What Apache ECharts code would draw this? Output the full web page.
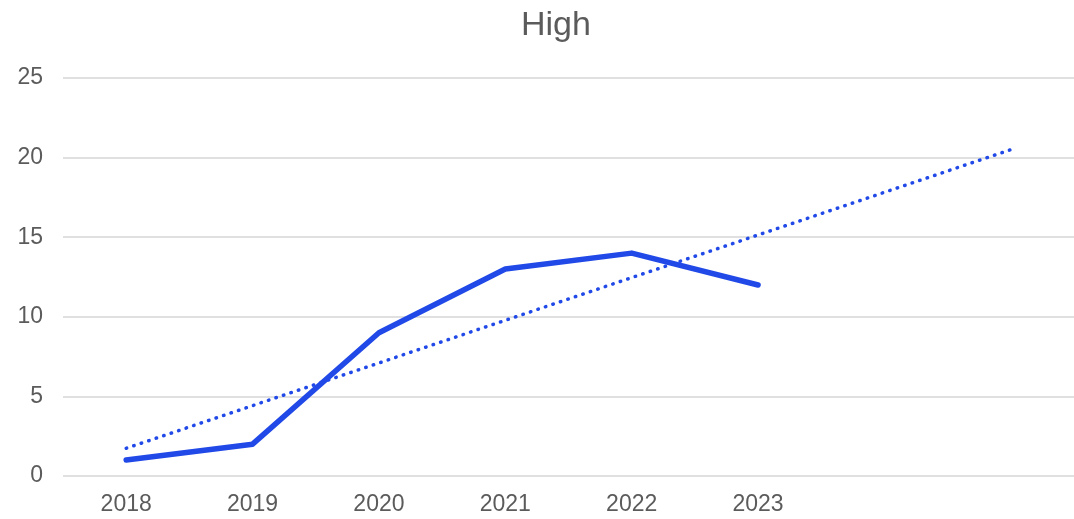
<!DOCTYPE html>
<html>
<head>
<meta charset="utf-8">
<script src="https://cdn.jsdelivr.net/npm/echarts@6/dist/echarts.min.js"></script>
<style>
  html, body { margin: 0; padding: 0; background: #ffffff; }
  #chart { width: 1074px; height: 519px; }
</style>
</head>
<body>
<div id="chart"></div>
<script>
// Years on the category axis; two trailing empty slots give room for the trend to run on.
const categories = ['2018', '2019', '2020', '2021', '2022', '2023', '', ''];
// Yearly "High" values.
const highValues = [1, 2, 9, 13, 14, 12];
// Linear trendline end points as [category index, value].
const trendPoints = [[0, 1.74], [7, 20.5]];
// Value axis ticks.
const yTicks = { min: 0, max: 25, interval: 5 };

const blue = '#2149e8';
const textGrey = '#5b5b5b';
const font = '"Liberation Sans", Arial, sans-serif';

const chart = echarts.init(document.getElementById('chart'), null, { renderer: 'canvas' });
chart.setOption({
  animation: false,
  backgroundColor: '#ffffff',
  title: {
    text: 'High',
    left: 516,
    top: 4,
    textStyle: { color: textGrey, fontSize: 34, fontWeight: 'normal', fontFamily: font }
  },
  grid: { left: 63, right: 0, top: 78, bottom: 43, containLabel: false },
  xAxis: {
    type: 'category',
    data: categories,
    boundaryGap: true,
    axisLine: { show: false },
    axisTick: { show: false },
    axisLabel: { color: textGrey, fontSize: 23, fontFamily: font, margin: 17, interval: 0 }
  },
  yAxis: {
    type: 'value',
    min: yTicks.min,
    max: yTicks.max,
    interval: yTicks.interval,
    axisLine: { show: false },
    axisTick: { show: false },
    axisLabel: { color: textGrey, fontSize: 23, fontFamily: font, margin: 20 },
    splitLine: { lineStyle: { color: '#d6d6d6', width: 1.5 } }
  },
  series: [
    {
      name: 'High',
      type: 'line',
      data: highValues,
      showSymbol: false,
      symbol: 'none',
      lineStyle: { color: blue, width: 5.5, cap: 'round', join: 'round' },
      z: 3
    },
    {
      name: 'Trend',
      type: 'line',
      data: trendPoints,
      showSymbol: false,
      symbol: 'none',
      lineStyle: { color: blue, width: 3.5, type: [0.5, 7.4], cap: 'round' },
      z: 2
    }
  ]
});
</script>
</body>
</html>
